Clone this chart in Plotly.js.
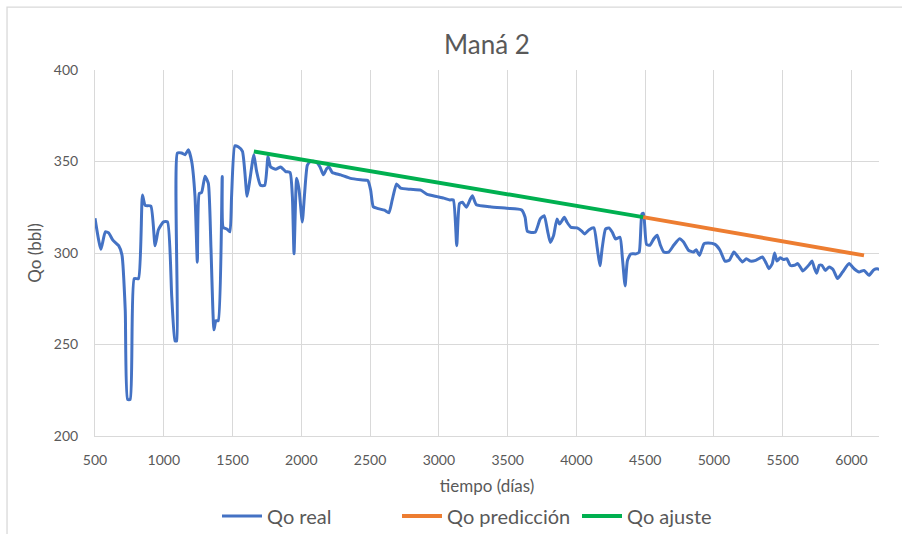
<!DOCTYPE html>
<html>
<head>
<meta charset="utf-8">
<script src="https://cdn.plot.ly/plotly-3.0.1.min.js"></script>
<style>html,body{margin:0;padding:0;background:#fff;}#chart{width:902px;height:534px;}</style>
</head>
<body>
<div id="chart"></div>
<script>
// Qo real
const realDays = [500,543,575,599,630,672,696,720,737,756,785,816,845,865,906,937,961,998,1027,1058,1082,1094,1099,1130,1155,1179,1203,1227,1244,1258,1275,1300,1324,1343,1365,1379,1396,1425,1432,1461,1481,1493,1517,1541,1572,1606,1626,1655,1674,1703,1734,1758,1777,1814,1850,1886,1918,1935,1947,1966,1983,2007,2024,2044,2068,2104,2136,2160,2184,2201,2225,2286,2358,2431,2484,2504,2523,2552,2605,2637,2661,2692,2722,2794,2867,2915,2988,3036,3080,3105,3130,3150,3171,3200,3229,3244,3273,3371,3493,3602,3627,3644,3700,3737,3766,3790,3810,3834,3859,3878,3912,3932,3961,4005,4041,4059,4090,4127,4151,4171,4188,4212,4237,4261,4285,4317,4334,4354,4371,4395,4432,4456,4476,4488,4510,4534,4563,4587,4611,4635,4671,4707,4750,4779,4815,4851,4871,4895,4928,4960,5008,5044,5080,5111,5145,5176,5208,5236,5265,5304,5352,5381,5400,5424,5441,5458,5482,5506,5530,5554,5586,5610,5627,5646,5665,5694,5713,5732,5747,5766,5785,5809,5838,5867,5899,5935,5983,6019,6055,6091,6127,6163,6187,6223];
const realQo = [319,302,311.6,311,307,304,299,268.6,220,220,286,286,331.7,326,325.7,304,312.7,317,317,276,252,252,354.6,354.6,353.7,356.4,350,331,295,332.6,333,342,338,303,258,263,263,341.8,314,313,311.6,331,358.6,358,355.5,331,340,353.7,345,337,337,352.7,347,345.8,347,344.5,344,330.8,299.6,340.8,335,317,332.6,348,350,350,347,342.7,346,347,344,342.7,340.8,340,339.6,334.4,325.3,324.4,323.4,322,329,337.7,335.4,334.8,334.4,332,330.8,330,329,329,304,327,327.7,325,329.5,331.3,326.4,325.3,324.4,323.5,319.5,311.8,311.3,318.6,320.4,312.2,305.8,309.5,318.6,315.8,319.5,316.8,314,313.7,311.8,310.4,312.6,313.7,303,293,303,313.1,313.7,311.3,307.7,308.6,297.6,282,295.8,299.5,299.5,300.4,321.3,321.7,304.7,304.2,307.8,309.7,304.2,300.5,300.5,304.2,307.8,306,301.5,300.5,301.8,298.7,305.1,305.5,304.7,301.5,295.6,296,300.5,297.8,295.1,296.9,295.6,296,297.8,294.2,291.4,294.2,300,295.6,297.4,296.4,296.9,293.3,293.3,294.2,292.4,290.2,291.4,293.8,295.6,291.4,289,293.3,293.3,290.5,292.4,290.9,286,289.6,294.2,291.4,289.6,290.5,287.8,290.9,291.4,290.5];
// Qo ajuste
const fitDays = [1655, 4485];
const fitQo = [355.5, 319.6];
// Qo predicción
const predDays = [4485, 6091];
const predQo = [319.6, 298.7];

const tickVals = [500,1000,1500,2000,2500,3000,3500,4000,4500,5000,5500,6000];
const yTicks = [200,250,300,350,400];

const font = 'Lato, "Open Sans", sans-serif';
const grey = '#595959';

const traces = [
  {x: realDays, y: realQo, name: 'Qo real', mode: 'lines',
   line: {color: '#4472c4', width: 3, shape: 'spline', smoothing: 0.5}},
  {x: predDays, y: predQo, name: 'Qo predicción', mode: 'lines',
   line: {color: '#ed7d31', width: 4}},
  {x: fitDays, y: fitQo, name: 'Qo ajuste', mode: 'lines',
   line: {color: '#00b050', width: 4}}
];

const layout = {
  width: 902, height: 534,
  margin: {l: 95, r: 23, t: 70, b: 98, autoexpand: false},
  paper_bgcolor: '#ffffff', plot_bgcolor: '#ffffff',
  font: {family: font, color: grey, size: 14},
  title: {text: 'Maná 2', font: {family: font, size: 26, color: grey}, x: 0.5, xanchor: 'center', y: 1 - 45/534, yanchor: 'middle', xref: 'paper', yref: 'container'},
  xaxis: {
    range: [500, 6200], tickvals: tickVals, ticktext: tickVals.map(String),
    showgrid: true, gridcolor: '#d9d9d9', gridwidth: 1,
    showline: true, linecolor: '#d9d9d9', linewidth: 1, zeroline: false,
    ticks: '', ticklabelstandoff: 11, tickfont: {family: font, size: 14, color: grey},
    title: {text: 'tiempo (días)', font: {family: font, size: 17, color: grey}, standoff: 14},
    automargin: false
  },
  yaxis: {
    range: [200, 400], tickvals: yTicks,
    showgrid: true, gridcolor: '#d9d9d9', gridwidth: 1,
    showline: true, linecolor: '#d9d9d9', linewidth: 1, zeroline: false,
    ticks: '', ticklabelstandoff: 13, tickfont: {family: font, size: 14, color: grey},
    title: {text: 'Qo (bbl)', font: {family: font, size: 17, color: grey}, standoff: 7},
    automargin: false
  },
  legend: {orientation: 'h', x: 0.5, xanchor: 'center', yref: 'container', y: 1 - 516/534, yanchor: 'middle',
    font: {family: font, size: 20, color: grey}, itemwidth: 40, tracegroupgap: 0,
    entrywidth: 125, entrywidthmode: 'pixels'},
  showlegend: true,
  shapes: [
    {type: 'path', xref: 'paper', yref: 'paper',
     path: 'M -0.1122 -0.3 L -0.1122 1.172 L 1.05 1.172',
     line: {color: '#d9d9d9', width: 1.3}}
  ]
};

Plotly.newPlot('chart', traces, layout, {displayModeBar: false, staticPlot: true});
</script>
</body>
</html>
